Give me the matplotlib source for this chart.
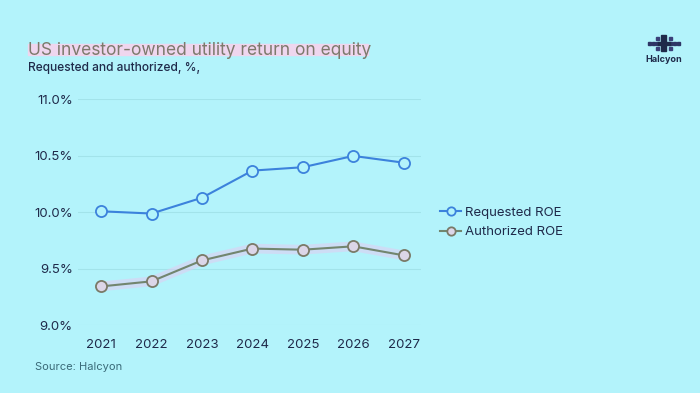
import matplotlib.pyplot as plt
from matplotlib.patches import Rectangle

years = ['2021', '2022', '2023', '2024', '2025', '2026', '2027']
requested = [10.01, 9.99, 10.13, 10.37, 10.40, 10.50, 10.44]
authorized = [9.345, 9.39, 9.575, 9.68, 9.67, 9.70, 9.62]
y_ticks = [9.0, 9.5, 10.0, 10.5, 11.0]

bg = '#b3f3fb'
navy = '#1f2a4a'

plt.rcParams['font.family'] = ['Inter', 'DejaVu Sans']

fig = plt.figure(figsize=(7, 3.93), dpi=100, facecolor=bg)
ax = fig.add_axes([0.112, 0.172, 0.49, 0.575])
ax.set_facecolor(bg)

x = range(len(years))
# faint glow behind the authorized line
ax.plot(x, authorized, color='#e8c8f0', linewidth=7, alpha=0.5, solid_capstyle='round', zorder=1)
ax.plot(x, requested, color='#3c82dc', linewidth=1.5, marker='o', markersize=8,
        markerfacecolor=bg, markeredgewidth=1.3, label='Requested ROE', zorder=3)
ax.plot(x, authorized, color='#72866f', linewidth=1.5, marker='o', markersize=8,
        markerfacecolor='#dcd6e8', markeredgecolor='#7a7a68', markeredgewidth=1.3,
        label='Authorized ROE', zorder=3)

ax.set_ylim(9.0, 11.0)
ax.set_xlim(-0.45, 6.35)
ax.set_yticks(y_ticks)
ax.set_yticklabels([f'{v:.1f}%' for v in y_ticks])
ax.set_xticks(list(x))
ax.set_xticklabels(years)
ax.grid(axis='y', color='#a2e3ea', linewidth=0.8)
ax.set_axisbelow(True)
for s in ax.spines.values():
    s.set_visible(False)
ax.tick_params(length=0, labelsize=9.5, colors=navy, pad=10)
ax.tick_params(axis='y', pad=4)

ax.legend(loc='center left', bbox_to_anchor=(1.02, 0.455), frameon=False, fontsize=9.5,
          labelcolor=navy, handlelength=1.6, handletextpad=0.3, labelspacing=0.55,
          markerscale=0.75)

# title with partial highlight
fig.patches.append(Rectangle((0.04, 0.861), 0.486, 0.027, transform=fig.transFigure,
                             color='#efd6ee', zorder=0))
fig.text(0.04, 0.872, 'US investor-owned utility return on equity', fontsize=12.5,
         color='#7d7a6c', va='center', zorder=2)
fig.text(0.04, 0.827, 'Requested and authorized, %,', fontsize=8.6, color=navy,
         va='center', fontweight='medium')
fig.text(0.05, 0.066, 'Source: Halcyon', fontsize=8, color='#3a6a78', va='center')

# logo
W, H = 700, 393
def sq(px_x, px_y, w, h, c):
    fig.patches.append(Rectangle((px_x / W, 1 - (px_y + h) / H), w / W, h / H,
                                 transform=fig.transFigure, color=c))

for lx in [648, 652, 656, 669, 673, 677]:
    sq(lx, 42, 3, 3, '#2e3566')
for lx, ly in [(656, 37), (656, 47), (669, 37), (669, 47)]:
    sq(lx, ly, 3, 3, '#3a3f78')
sq(661, 35, 5, 16, navy)
sq(658, 42, 12, 3, navy)
fig.text(664 / W, 1 - 60 / H, 'Halcyon', fontsize=6.5, color=navy, ha='center',
         va='center', fontweight='bold')

fig.savefig('out.png', dpi=100, facecolor=bg)
